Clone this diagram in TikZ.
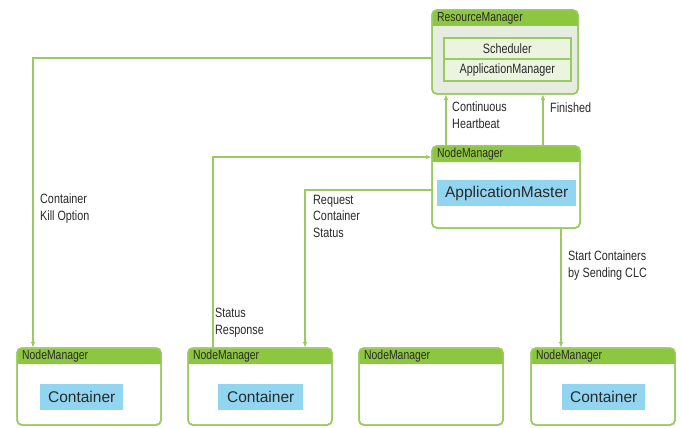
\documentclass[tikz,border=0pt]{standalone}
\usepackage{fontspec}
\setmainfont{Liberation Sans}
\newfontfamily\cond[FakeStretch=0.8]{Liberation Sans}
\usetikzlibrary{arrows.meta,calc}
\definecolor{hdrgreen}{HTML}{8DC63F}
\definecolor{lngreen}{HTML}{9ACB63}
\definecolor{cblue}{HTML}{92D5F0}
\definecolor{rmfill}{HTML}{E6EDE0}
\definecolor{infill}{HTML}{EBF4DF}
\definecolor{txt}{HTML}{2A2A2A}
\tikzset{
  nmbox/.style={draw=lngreen, line width=1.5pt, fill=white, rounded corners=5pt, anchor=north west, inner sep=0pt, outer sep=0pt},
  hdrtxt/.style={anchor=west, font=\cond\fontsize{13}{15}\selectfont, text=txt, inner sep=0pt},
  bluebox/.style={fill=cblue, inner sep=0pt, text=txt, font=\fontsize{15.5}{17}\selectfont},
  inbox/.style={draw=lngreen, line width=1.6pt, fill=infill, inner sep=0pt, text=txt, font=\cond\fontsize{13.5}{15}\selectfont},
  lbl/.style={anchor=north west, align=left, inner sep=0pt, text=txt, font=\cond\fontsize{13.5}{16.5}\selectfont},
  conn/.style={draw=lngreen, line width=1.8pt, -{Latex[length=6pt,width=4.5pt]}}
}
\newcommand{\hdr}[1]{%
  \fill[hdrgreen, rounded corners=5pt] (#1.north west) rectangle ($(#1.north east)+(0,16)$);
  \fill[hdrgreen] ($(#1.north west)+(0,8)$) rectangle ($(#1.north east)+(0,16)$);
  \draw[lngreen, line width=1.5pt, rounded corners=5pt] (#1.north west) rectangle (#1.south east);
}
\begin{document}
\begin{tikzpicture}[x=1pt,y=-1pt]
\useasboundingbox[fill=white] (0,0) rectangle (681,428);
% ResourceManager
\node[nmbox, fill=rmfill, minimum width=146pt, minimum height=84pt] (rm) at (432,10) {};
\hdr{rm}
\node[hdrtxt] (rmt) at (437,18) {ResourceManager};
\node[inbox, minimum width=127pt, minimum height=21pt, anchor=north west] (sch) at (443,37) {Scheduler};
\node[inbox, minimum width=127pt, minimum height=22pt, anchor=north west] (apm) at (443,58) {ApplicationManager};
% NodeManager with AM
\node[nmbox, minimum width=148pt, minimum height=82pt] (nmam) at (432,146) {};
\hdr{nmam}
\node[hdrtxt] (nmamt) at (437,154) {NodeManager};
\node[bluebox, minimum width=139pt, minimum height=26pt, anchor=north west] (am) at (437,180) {ApplicationMaster};
% bottom NodeManagers
\node[nmbox, minimum width=144pt, minimum height=77pt] (nm1) at (17,348) {};
\hdr{nm1}
\node[hdrtxt] (nm1t) at (22,356) {NodeManager};
\node[bluebox, minimum width=83pt, minimum height=26pt, anchor=north west] (c1) at (40,384) {Container};
\node[nmbox, minimum width=144pt, minimum height=77pt] (nm2) at (188,348) {};
\hdr{nm2}
\node[hdrtxt] (nm2t) at (193,356) {NodeManager};
\node[bluebox, minimum width=85pt, minimum height=26pt, anchor=north west] (c2) at (218,384) {Container};
\node[nmbox, minimum width=144pt, minimum height=77pt] (nm3) at (359,348) {};
\hdr{nm3}
\node[hdrtxt] (nm3t) at (364,356) {NodeManager};
\node[nmbox, minimum width=144pt, minimum height=77pt] (nm4) at (531,348) {};
\hdr{nm4}
\node[hdrtxt] (nm4t) at (536,356) {NodeManager};
\node[bluebox, minimum width=83pt, minimum height=26pt, anchor=north west] (c4) at (562,384) {Container};
% connectors
\draw[conn] ([yshift=-6pt]rm.west) -| ([xshift=-56pt]nm1.north);
\draw[conn] ([xshift=-60pt]nmam.north) -- ([xshift=-59pt]rm.south);
\draw[conn] ([xshift=37pt]nmam.north) -- ([xshift=38pt]rm.south);
\draw[conn] ([xshift=-47pt]nm2.north) |- ([yshift=30pt]nmam.west);
\draw[conn] ([yshift=-3pt]nmam.west) -| ([xshift=45pt]nm2.north);
\draw[conn] ([xshift=55pt]nmam.south) -- ([xshift=-42pt]nm4.north);
% labels
\node[lbl] (l1) at (40,194) {Container\\Kill Option};
\node[lbl] (l2) at (452,102) {Continuous\\Heartbeat};
\node[lbl] (l3) at (550,103) {Finished};
\node[lbl] (l4) at (313,195) {Request\\Container\\Status};
\node[lbl] (l5) at (215,308) {Status\\Response};
\node[lbl] (l6) at (568,251) {Start Containers\\by Sending CLC};
\end{tikzpicture}
\end{document}
